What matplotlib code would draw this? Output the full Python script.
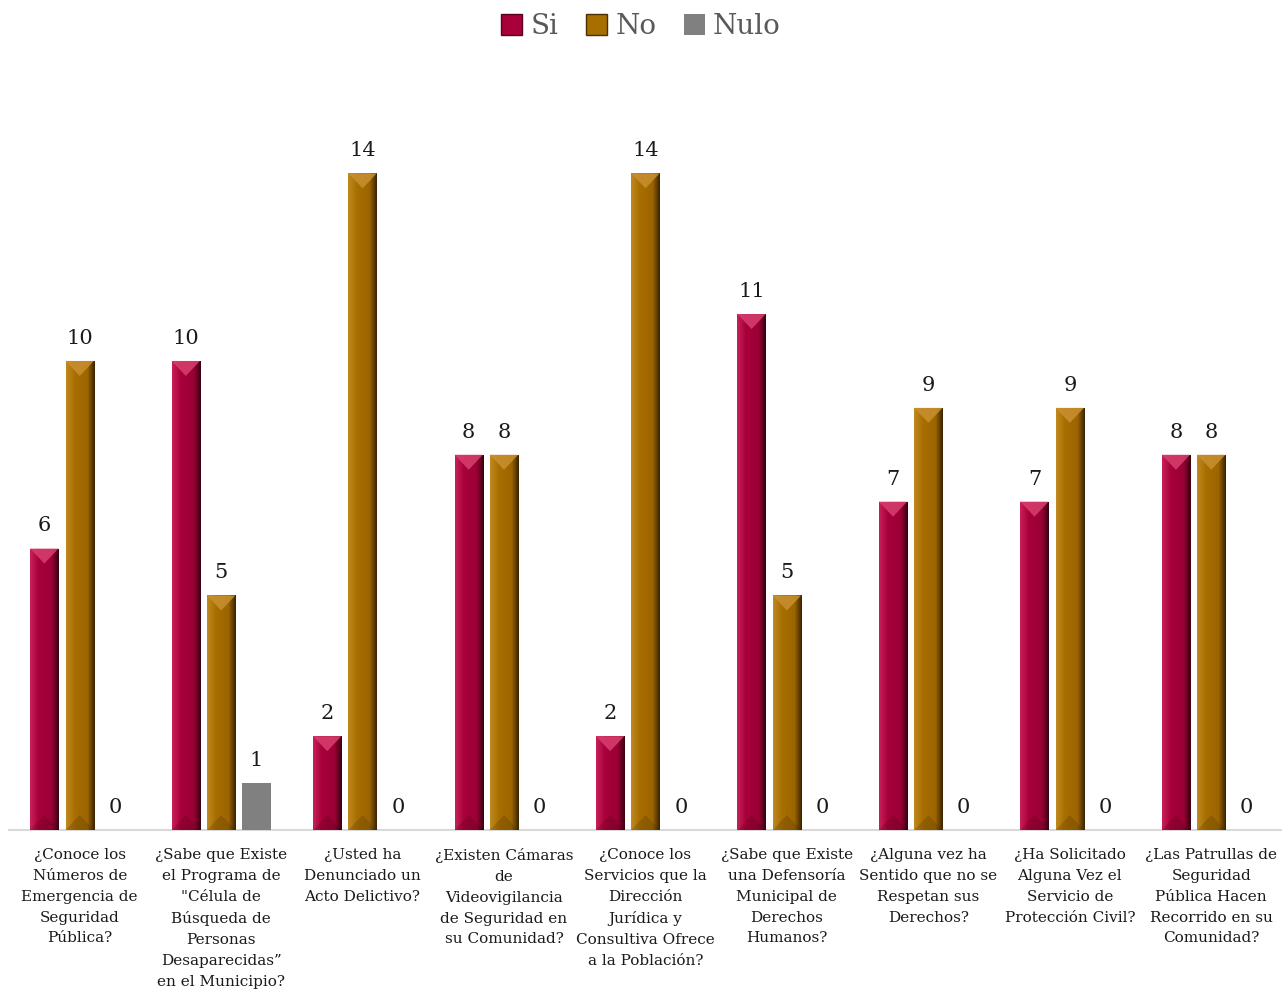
import numpy as np
import matplotlib
matplotlib.use('Agg')
import matplotlib.pyplot as plt
from matplotlib.colors import LinearSegmentedColormap
from matplotlib.patches import Patch, Polygon

categories = [
    '¿Conoce los\nNúmeros de\nEmergencia de\nSeguridad\nPública?',
    '¿Sabe que Existe\nel Programa de\n"Célula de\nBúsqueda de\nPersonas\nDesaparecidas”\nen el Municipio?',
    '¿Usted ha\nDenunciado un\nActo Delictivo?',
    '¿Existen Cámaras\nde\nVideovigilancia\nde Seguridad en\nsu Comunidad?',
    '¿Conoce los\nServicios que la\nDirección\nJurídica y\nConsultiva Ofrece\na la Población?',
    '¿Sabe que Existe\nuna Defensoría\nMunicipal de\nDerechos\nHumanos?',
    '¿Alguna vez ha\nSentido que no se\nRespetan sus\nDerechos?',
    '¿Ha Solicitado\nAlguna Vez el\nServicio de\nProtección Civil?',
    '¿Las Patrullas de\nSeguridad\nPública Hacen\nRecorrido en su\nComunidad?',
]
si = [6, 10, 2, 8, 2, 11, 7, 7, 8]
no = [10, 5, 14, 8, 14, 5, 9, 9, 8]
nulo = [0, 1, 0, 0, 0, 0, 0, 0, 0]

# name, values, gradient (left -> right), top bevel colour
series = [
    ('Si', si, ['#c8205a', '#a8003a', '#9a0036', '#3a0010'], '#d8406e'),
    ('No', no, ['#c08a20', '#a86e00', '#9c6500', '#3a2400'], '#c89030'),
    ('Nulo', nulo, None, None),
]

plt.rcParams['font.family'] = ['DejaVu Serif']

fig = plt.figure(figsize=(12.82, 9.94), dpi=100)
ax = fig.add_axes([0.007, 0.165, 0.993, 0.755])

x = np.arange(len(categories))
width = 0.2
offsets = [-0.25, 0.0, 0.25]
bevel = 0.32

for (name, vals, grad, top), off in zip(series, offsets):
    if grad is None:
        bars = ax.bar(x + off, vals, width, color='#808080', zorder=3)
    else:
        cmap = LinearSegmentedColormap.from_list(name, list(zip([0, 0.3, 0.75, 1.0], grad)))
        bars = ax.bar(x + off, vals, width, color=grad[1], edgecolor='none', zorder=3)
        g = np.linspace(0, 1, 64).reshape(1, -1)
        for b in bars:
            if b.get_height() <= 0:
                continue
            x0, w, h = b.get_x(), b.get_width(), b.get_height()
            im = ax.imshow(g, cmap=cmap, aspect='auto', extent=[x0, x0 + w, 0, h], zorder=4)
            im.set_clip_path(b)
            ax.add_patch(Polygon([(x0, h), (x0 + w, h), (x0 + w / 2, h - bevel)],
                                 closed=True, facecolor=top, edgecolor='none', alpha=0.85, zorder=5))
            ax.add_patch(Polygon([(x0, 0), (x0 + w, 0), (x0 + w / 2, bevel)],
                                 closed=True, facecolor=grad[3], edgecolor='none', alpha=0.2, zorder=5))
    for xi, v in zip(x + off, vals):
        ax.text(xi, v + 0.28, str(v), ha='center', va='bottom', fontsize=15, color='#1a1a1a', zorder=6)

ax.set_xlim(-0.5, len(categories) - 0.5)
ax.set_ylim(0, 16)
ax.set_xticks(x)
ax.set_xticklabels(categories, fontsize=11, color='#1a1a1a', linespacing=1.62)
ax.tick_params(axis='x', length=0, pad=13)
ax.set_yticks([])
for s in ['top', 'right', 'left']:
    ax.spines[s].set_visible(False)
ax.spines['bottom'].set_color('#d9d9d9')
ax.spines['bottom'].set_linewidth(1.5)

handles = [Patch(facecolor='#a8003a', edgecolor='#5a0020'),
           Patch(facecolor='#a86e00', edgecolor='#4a3000'),
           Patch(facecolor='#808080')]
fig.legend(handles, ['Si', 'No', 'Nulo'], loc='upper center', bbox_to_anchor=(0.5, 1.012),
           ncol=3, frameon=False, fontsize=20, handlelength=0.75, handleheight=0.75,
           handletextpad=0.3, columnspacing=1.0, labelcolor='#595959')

fig.savefig('out.png', dpi=100)
